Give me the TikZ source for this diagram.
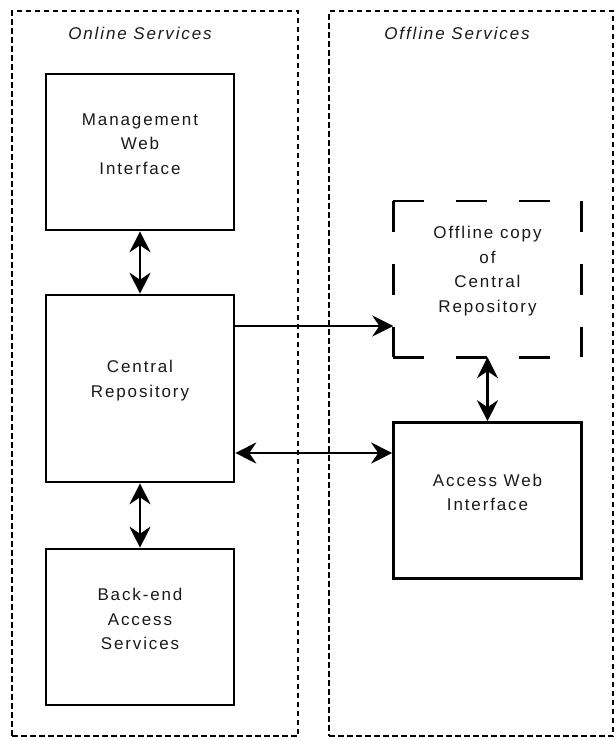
\documentclass[tikz,border=0pt]{standalone}
\usepackage{fontspec}
\setmainfont{Liberation Sans}[LetterSpace=11]
\usetikzlibrary{arrows.meta}
\begin{document}
\begin{tikzpicture}[x=1pt,y=-1pt,
  container/.style={draw, line width=2.6pt, dash pattern=on 5.5pt off 3.5pt, inner sep=0pt},
  solidbox/.style={draw, line width=2.6pt, minimum width=188pt, minimum height=156pt, inner sep=0pt},
  ghostbox/.style={minimum width=188pt, minimum height=156pt, inner sep=0pt},
  longdash/.style={line width=2.6pt, dash pattern=on 31pt off 32pt},
  txt/.style={font=\fontsize{17}{24.5}\selectfont, align=center, text=black!90, inner sep=0pt},
  titletxt/.style={font=\fontsize{17}{20}\selectfont\itshape, text=black!90, inner sep=0pt},
  tip/.tip={Stealth[length=21pt,width=21pt,inset=7pt]},
  onearrow/.style={line width=2.6pt, -tip},
  twoarrow/.style={line width=2.6pt, tip-tip}]
\useasboundingbox (0,0) rectangle (616,740);

% containers
\node[container, minimum width=286pt, minimum height=725pt] (online) at (155,373.5) {};
\node[container, minimum width=284pt, minimum height=725pt] (offline) at (471,373.5) {};
\node[titletxt] (onlinetitle) at (140,33) {Online Services};
\node[titletxt] (offlinetitle) at (457,33) {Offline Services};

% boxes
\node[solidbox, label={[txt,yshift=8pt]center:Management\\Web\\Interface}] (mgmt) at (140,152) {};
\node[solidbox, minimum height=187pt, label={[txt,yshift=8pt]center:Central\\Repository}] (central) at (140,388.5) {};
\node[solidbox, label={[txt,yshift=8pt]center:Back-end\\Access\\Services}] (backend) at (140,627) {};
\node[ghostbox, label={[txt,yshift=8pt]center:Offline copy\\of\\Central\\Repository}] (copy) at (487.5,279) {};
\node[solidbox, label={[txt,yshift=8pt]center:Access Web\\Interface}] (access) at (487.5,500.5) {};

% dashed outline of the offline copy
\draw[longdash] (copy.north west) -- (copy.north east);
\draw[longdash] (copy.north east) -- (copy.south east);
\draw[longdash] (copy.south west) -- (copy.south east);
\draw[longdash] (copy.north west) -- (copy.south west);

% connectors
\draw[twoarrow] (mgmt.south) -- (central.north);
\draw[twoarrow] (central.south) -- (backend.north);
\draw[onearrow] ([yshift=62.5pt]central.east) -- ([yshift=62.5pt]central.east -| copy.west);
\draw[twoarrow] ([yshift=-64.5pt]central.east) -- ([yshift=-64.5pt]central.east -| access.west);
\draw[twoarrow] (copy.south) -- (access.north);
\end{tikzpicture}
\end{document}
